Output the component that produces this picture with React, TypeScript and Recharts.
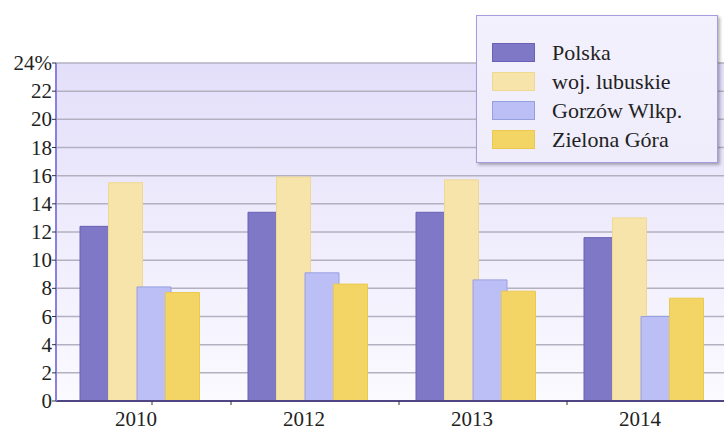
import { BarChart, Bar, XAxis, YAxis, CartesianGrid } from "recharts";
import React from "react";

const years = ["2010", "2012", "2013", "2014"];
const polska = [12.4, 13.4, 13.4, 11.6];
const lubuskie = [15.5, 15.9, 15.7, 13.0];
const gorzow = [8.1, 9.1, 8.6, 6.0];
const zielona = [7.7, 8.3, 7.8, 7.3];
const yTicks = [0, 2, 4, 6, 8, 10, 12, 14, 16, 18, 20, 22, 24];

const SERIES = [
  { key: "polska", name: "Polska", fill: "#7f78c6", stroke: "#6a60b6" },
  { key: "lubuskie", name: "woj. lubuskie", fill: "#f7e4ab", stroke: "#efd892" },
  { key: "gorzow", name: "Gorzów Wlkp.", fill: "#bcbff5", stroke: "#97a0de" },
  { key: "zielona", name: "Zielona Góra", fill: "#f3d566", stroke: "#ebc94f" },
];

const FONT = "'Liberation Serif', 'Times New Roman', Times, serif";

const data = years.map((year, i) => ({
  year,
  polska: polska[i],
  lubuskie: lubuskie[i],
  gorzow: gorzow[i],
  zielona: zielona[i],
}));

// etykiety osi X z małymi kreskami między grupami
const XTick = (props: any) => {
  const { x, y, payload, index } = props;
  return (
    <g>
      {index === 0 && <line x1={x + 12} x2={x + 12} y1={y - 8} y2={y - 4} stroke="#333" />}
      {index < 3 && <line x1={x + 91} x2={x + 91} y1={y - 8} y2={y - 4} stroke="#333" />}
      <text x={x - 4} y={y + 17} textAnchor="middle" style={{ fontFamily: FONT }} fontSize={21} fill="#222">
        {payload.value}
      </text>
    </g>
  );
};

const YTick = (props: any) => {
  const { x, y, payload } = props;
  return (
    <text x={x} y={y + 7} textAnchor="end" style={{ fontFamily: FONT }} fontSize={21} fill="#222">
      {payload.value === 24 ? "24%" : payload.value}
    </text>
  );
};

const LegendBox = () => (
  <div
    style={{
      position: "absolute",
      left: 476,
      top: 15,
      width: 242,
      height: 148,
      background: "linear-gradient(#f3f1fd, #efedfb)",
      border: "1px solid #a49ee0",
      boxShadow: "2px 2px 3px rgba(0,0,0,0.3)",
      boxSizing: "border-box",
      paddingTop: 22,
      paddingLeft: 15,
      fontFamily: FONT,
    }}
  >
    {SERIES.map((s) => (
      <div key={s.key} style={{ display: "flex", alignItems: "center", height: 29 }}>
        <div
          style={{
            width: 43,
            height: 19,
            background: s.fill,
            border: `1px solid ${s.stroke}`,
            boxSizing: "border-box",
          }}
        />
        <span style={{ marginLeft: 17, fontSize: 22, color: "#222", lineHeight: "29px" }}>{s.name}</span>
      </div>
    ))}
  </div>
);

export default function App() {
  return (
    <div style={{ position: "absolute", left: 0, top: 0, width: 724, height: 428, overflow: "hidden", background: "#fff" }}>
      <BarChart
        width={730}
        height={428}
        data={data}
        margin={{ top: 63, right: 2, left: 0, bottom: 0 }}
        barSize={34}
        barGap={-5.5}
      >
        <defs>
          <linearGradient id="plotBg" x1="0" y1="0" x2="0" y2="1">
            <stop offset="0%" stopColor="#e3dffa" />
            <stop offset="100%" stopColor="#fbfaff" />
          </linearGradient>
        </defs>
        <CartesianGrid
          vertical={false}
          stroke="#b3b1c0"
          strokeWidth={1.5}
          fill="url(#plotBg)"
          fillOpacity={1}
        />
        <XAxis
          dataKey="year"
          height={27}
          axisLine={{ stroke: "#4f4784", strokeWidth: 2 }}
          tickLine={false}
          tick={<XTick />}
          interval={0}
        />
        <YAxis
          width={56}
          domain={[0, 24]}
          ticks={yTicks}
          interval={0}
          tickSize={4}
          tickMargin={0}
          axisLine={{ stroke: "#8a80e0", strokeWidth: 2 }}
          tickLine={{ stroke: "#333" }}
          tick={<YTick />}
        />
        {SERIES.map((s) => (
          <Bar
            key={s.key}
            dataKey={s.key}
            name={s.name}
            fill={s.fill}
            stroke={s.stroke}
            strokeWidth={1}
            isAnimationActive={false}
          />
        ))}
      </BarChart>
      <LegendBox />
    </div>
  );
}
